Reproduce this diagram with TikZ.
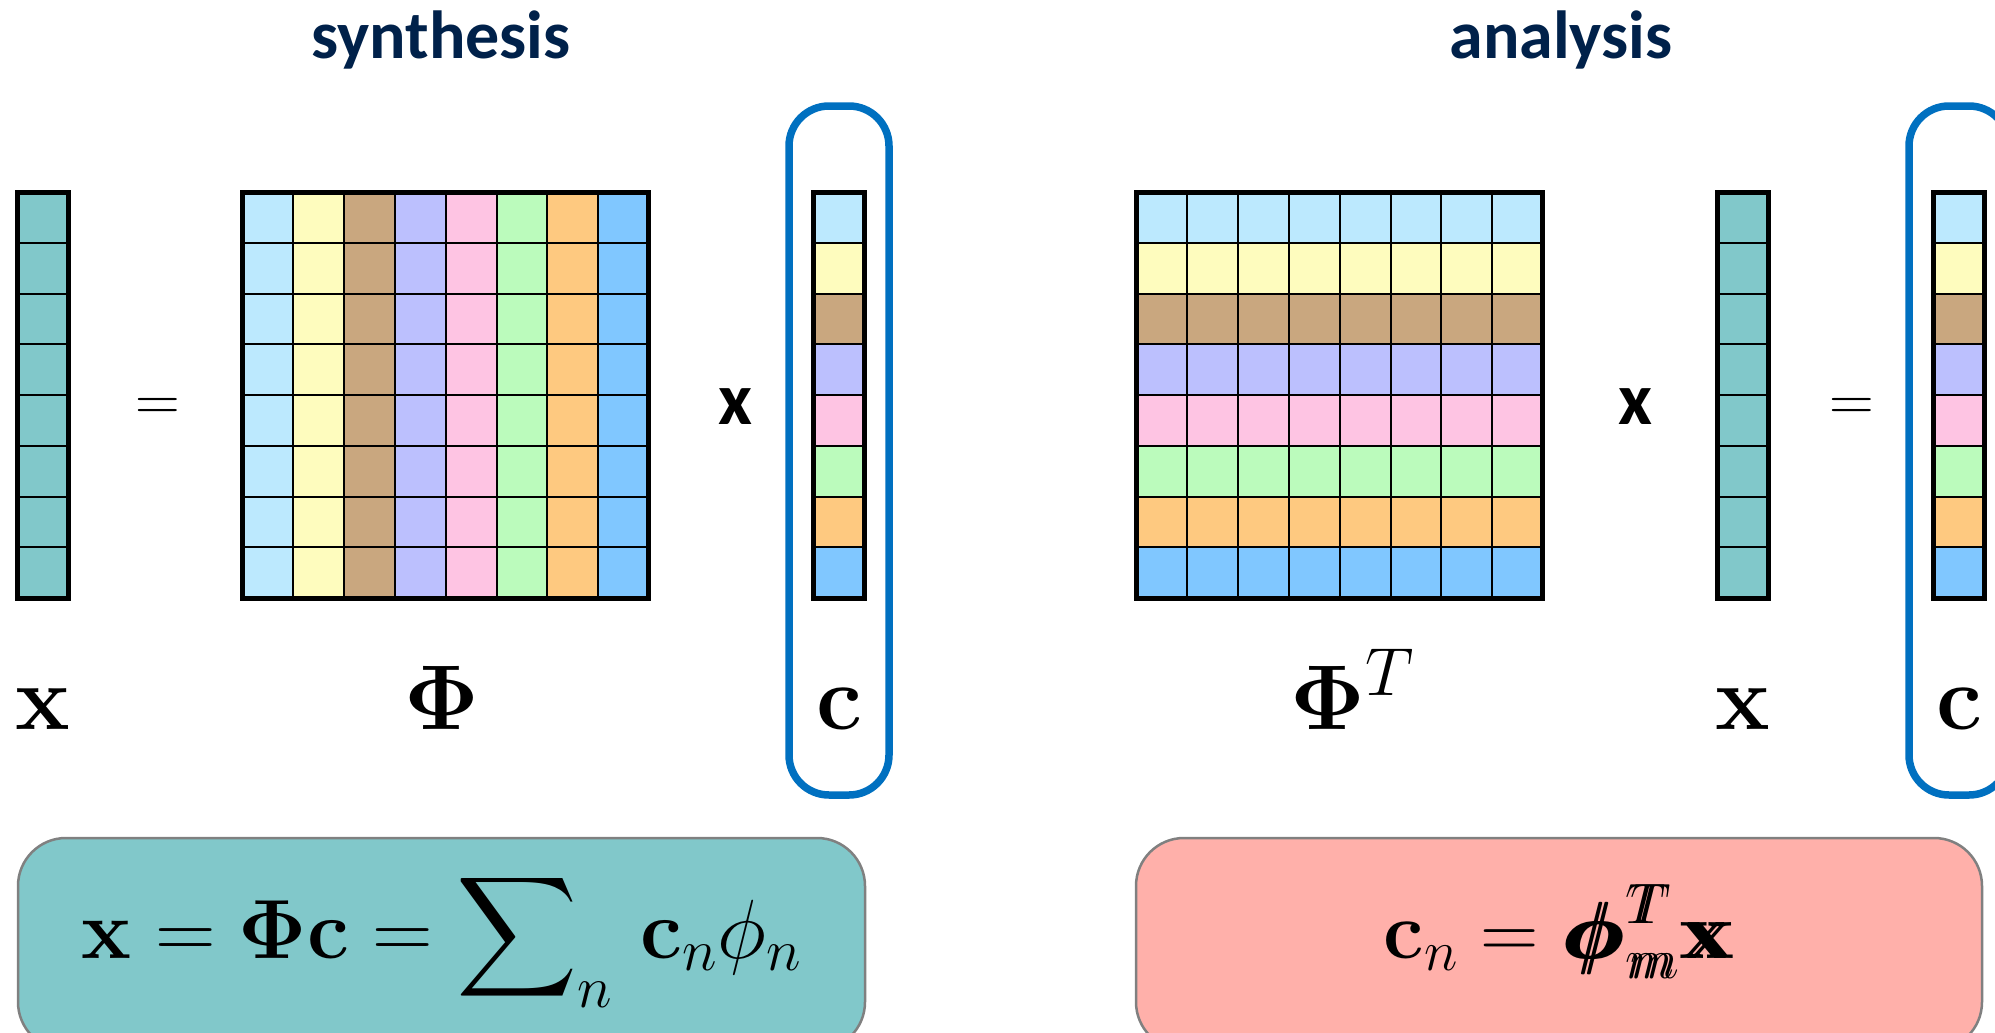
\RequirePackage{fix-cm}
\documentclass[tikz,border=0pt]{standalone}
\usepackage{amsmath,amssymb,mathtools}
\usepackage[no-math]{fontspec}
\usepackage{xcolor}
\usepackage{tikz}
\newfontfamily\titlefont{Carlito}
\DeclareMathSizes{92}{92}{66}{46}
\DeclareMathSizes{84}{84}{59}{42}
\DeclareMathSizes{81}{81}{57}{41}
\DeclareMathSizes{62}{62}{43}{31}
\definecolor{Navy}{HTML}{00214A}
\definecolor{FrameBlue}{HTML}{0070C0}
\definecolor{BoxGrey}{HTML}{808080}
\definecolor{Teal}{HTML}{81C8CA}
\definecolor{Salmon}{HTML}{FFB0AA}
\definecolor{CellSky}{HTML}{BCE9FE}
\definecolor{CellLemon}{HTML}{FEFCBE}
\definecolor{CellTan}{HTML}{C9A77F}
\definecolor{CellLilac}{HTML}{BCC0FE}
\definecolor{CellRose}{HTML}{FEC4E3}
\definecolor{CellMint}{HTML}{BBFBBC}
\definecolor{CellApricot}{HTML}{FEC980}
\definecolor{CellAzure}{HTML}{80C7FF}
\newcommand{\dbl}[1]{\mathrlap{#1}\mkern1.5mu{#1}}
\newcommand{\bigsup}[1]{\mbox{\fontsize{68}{72}\selectfont$#1$}}
\tikzset{
  cell/.style={draw=black,line width=2pt},
  frame/.style={draw=black,line width=5pt},
  bracketbox/.style={draw=FrameBlue,line width=7.5pt,rounded corners=40pt},
  sumbox/.style={draw=BoxGrey,line width=2.5pt,rounded corners=48pt,inner sep=0pt,
    minimum height=212pt,text height=60pt,text depth=32pt},
  title/.style={anchor=base,text=Navy,font=\titlefont\bfseries\fontsize{68}{72}\selectfont},
  label/.style={anchor=base,inner sep=0pt,font=\fontsize{92}{100}\selectfont},
  times/.style={anchor=base,inner sep=0pt,font=\titlefont\bfseries\fontsize{74}{80}\selectfont},
  equals/.style={anchor=base,inner sep=0pt,font=\fontsize{62}{70}\selectfont}
}
\def\cw{50.8}
\def\ch{50.75}
\def\gtop{192}

\begin{document}
\begin{tikzpicture}[x=1pt,y=-1pt]
  \useasboundingbox (0,0) rectangle (1995,1033);
  \clip (0,0) rectangle (1995,1033);
  % titles
  \node[title] (synth) at (441,59) {synthesis};
  \node[title] (anal) at (1561,59) {analysis};
  % synthesis: x = Phi c
  \foreach \r in {0,...,7}
    \filldraw[cell,fill=Teal] ({43-\cw/2},{\gtop+\ch*\r}) rectangle ++(\cw,\ch);
  \draw[frame] ({43-\cw/2},\gtop) rectangle ++(\cw,{8*\ch});
  \foreach \col [count=\c from 0] in {CellSky,CellLemon,CellTan,CellLilac,CellRose,CellMint,CellApricot,CellAzure}
    \foreach \r in {0,...,7}
      \filldraw[cell,fill=\col] ({242.5+\cw*\c},{\gtop+\ch*\r}) rectangle ++(\cw,\ch);
  \draw[frame] (242.5,\gtop) rectangle ++({8*\cw},{8*\ch});
  \foreach \col [count=\r from 0] in {CellSky,CellLemon,CellTan,CellLilac,CellRose,CellMint,CellApricot,CellAzure}
    \filldraw[cell,fill=\col] ({839-\cw/2},{\gtop+\ch*\r}) rectangle ++(\cw,\ch);
  \draw[frame] ({839-\cw/2},\gtop) rectangle ++(\cw,{8*\ch});
  \draw[bracketbox] (789,106) rectangle (889,795);
  \node[equals] (eqL) at (158,420) {$=$};
  \node[times] (timesL) at (735,424) {x};
  \node[label] (xL) at (43,729) {$\mathbf{x}$};
  \node[label] (PhiL) at (442,729) {$\mathbf{\Phi}$};
  \node[label] (cL) at (839,729) {$\mathbf{c}$};
  % analysis: Phi^T x = c
  \foreach \col [count=\r from 0] in {CellSky,CellLemon,CellTan,CellLilac,CellRose,CellMint,CellApricot,CellAzure}
    \foreach \c in {0,...,7}
      \filldraw[cell,fill=\col] ({1136.5+\cw*\c},{\gtop+\ch*\r}) rectangle ++(\cw,\ch);
  \draw[frame] (1136.5,\gtop) rectangle ++({8*\cw},{8*\ch});
  \foreach \r in {0,...,7}
    \filldraw[cell,fill=Teal] ({1743-\cw/2},{\gtop+\ch*\r}) rectangle ++(\cw,\ch);
  \draw[frame] ({1743-\cw/2},\gtop) rectangle ++(\cw,{8*\ch});
  \foreach \col [count=\r from 0] in {CellSky,CellLemon,CellTan,CellLilac,CellRose,CellMint,CellApricot,CellAzure}
    \filldraw[cell,fill=\col] ({1959-\cw/2},{\gtop+\ch*\r}) rectangle ++(\cw,\ch);
  \draw[frame] ({1959-\cw/2},\gtop) rectangle ++(\cw,{8*\ch});
  \draw[bracketbox] (1909,106) rectangle (2009,795);
  \node[times] (timesR) at (1635,424) {x};
  \node[equals] (eqR) at (1852,420) {$=$};
  \node[label] (PhiR) at (1352,729) {$\mathbf{\Phi}^{\bigsup{T}}$};
  \node[label] (xR) at (1743,729) {$\mathbf{x}$};
  \node[label] (cR) at (1959,729) {$\mathbf{c}$};
  % formulas
  \node[sumbox,fill=Teal,minimum width=847pt,font=\fontsize{84}{90}\selectfont] (synthbox) at (441.5,944)
    {$\displaystyle\mathbf{x}=\mathbf{\Phi}\mathbf{c}=\sum\nolimits_n\,\mathbf{c}_n\phi_n$};
  \node[sumbox,fill=Salmon,minimum width=846pt,font=\fontsize{81}{90}\selectfont] (analbox) at (1559,944)
    {$\mathbf{c}_n=\dbl{\boldsymbol{\phi}}^{\dbl{T}}_{\dbl{m}}\dbl{\mathbf{x}}$};
\end{tikzpicture}
\end{document}
